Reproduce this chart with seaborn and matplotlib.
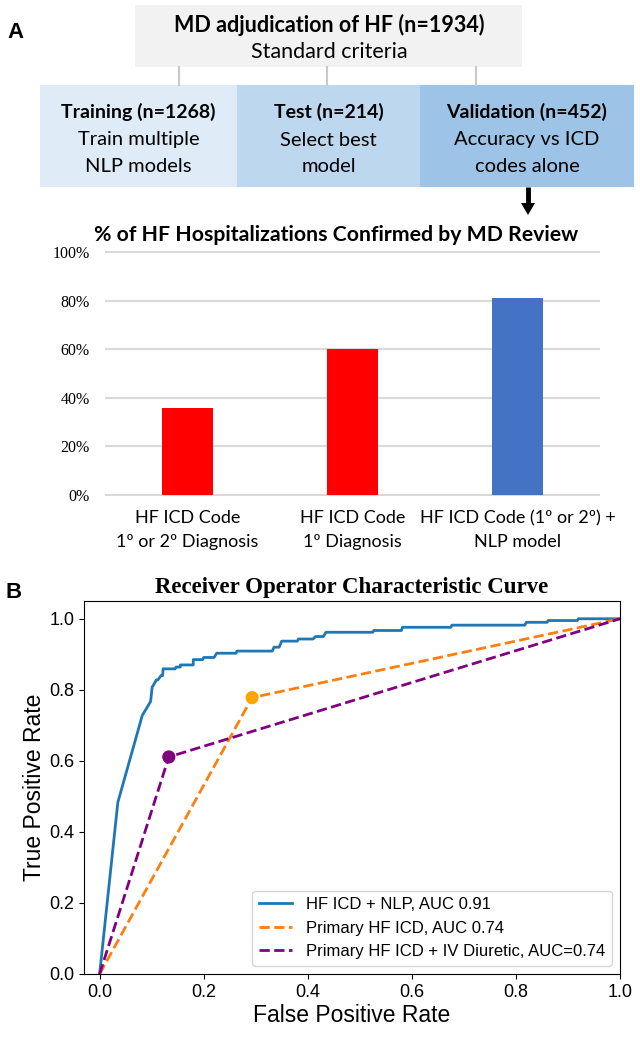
import numpy as np
import pandas as pd
import seaborn as sns
import matplotlib.pyplot as plt
from matplotlib.patches import Rectangle, Polygon

# --- panel A: flowchart text
top_box = ['MD adjudication of HF (n=1934)', 'Standard criteria']
split_titles = ['Training (n=1268)', 'Test (n=214)', 'Validation (n=452)']
split_lines = [['Train multiple', 'NLP models'],
               ['Select best', 'model'],
               ['Accuracy vs ICD', 'codes alone']]

# --- panel A: bar chart
bar_title = '% of HF Hospitalizations Confirmed by MD Review'
bar_labels = ['HF ICD Code\n1º or 2º Diagnosis',
              'HF ICD Code\n1º Diagnosis',
              'HF ICD Code (1º or 2º) +\nNLP model']
bar_values = [0.36, 0.60, 0.81]
bar_colors = ['#ff0000', '#ff0000', '#4472c4']
pct_ticks = [0.0, 0.2, 0.4, 0.6, 0.8, 1.0]

# --- panel B: ROC curves
nlp_fpr = [0, 0.035, 0.082, 0.098, 0.101, 0.103, 0.109, 0.112, 0.118, 0.121,
           0.122, 0.145, 0.147, 0.155, 0.155, 0.18, 0.18, 0.198, 0.2, 0.22,
           0.225, 0.262, 0.264, 0.332, 0.335, 0.345, 0.35, 0.38, 0.382, 0.41,
           0.415, 0.43, 0.435, 0.525, 0.527, 0.58, 0.582, 0.675, 0.677, 0.817,
           0.82, 0.86, 0.862, 0.918, 0.92, 1.0]
nlp_tpr = [0, 0.483, 0.728, 0.767, 0.808, 0.812, 0.828, 0.828, 0.84, 0.84,
           0.859, 0.859, 0.864, 0.864, 0.87, 0.87, 0.885, 0.885, 0.891, 0.891,
           0.903, 0.903, 0.909, 0.909, 0.92, 0.92, 0.937, 0.937, 0.943, 0.943,
           0.95, 0.95, 0.962, 0.962, 0.967, 0.967, 0.976, 0.976, 0.982, 0.982,
           0.99, 0.99, 0.995, 0.995, 1.0, 1.0]
icd_fpr = [0, 0.293, 1.0]
icd_tpr = [0, 0.778, 1.0]
diu_fpr = [0, 0.133, 1.0]
diu_tpr = [0, 0.611, 1.0]
roc_labels = ['HF ICD + NLP, AUC 0.91', 'Primary HF ICD, AUC 0.74',
              'Primary HF ICD + IV Diuretic, AUC=0.74']
roc_ticks = [0.0, 0.2, 0.4, 0.6, 0.8, 1.0]

CAL = 'Lato'
ARIAL = 'Liberation Sans'
TIMES = 'Liberation Serif'

W, H = 640, 1050
fig = plt.figure(figsize=(6.4, 10.5), dpi=100)

# overlay in pixel coords for the flowchart
ax0 = fig.add_axes([0, 0, 1, 1])
ax0.set_xlim(0, W)
ax0.set_ylim(H, 0)
ax0.axis('off')

ax0.add_patch(Rectangle((135, 5), 387, 62, color='#f2f2f2', lw=0))
ax0.text(329, 25, top_box[0], ha='center', va='center', fontsize=15.5,
         fontweight='bold', family=CAL)
ax0.text(329, 52, top_box[1], ha='center', va='center', fontsize=15.5, family=CAL)
for cx in [179, 327, 476]:
    ax0.plot([cx, cx], [67, 85], color='#c9c9c9', lw=1.5)

box_x = [40, 237, 420, 634]
box_fill = ['#dfebf7', '#bdd7ee', '#9dc3e6']
for i in range(3):
    x0, x1 = box_x[i], box_x[i + 1]
    ax0.add_patch(Rectangle((x0, 85), x1 - x0, 102, color=box_fill[i], lw=0))
    cx = (x0 + x1) / 2
    ax0.text(cx, 112, split_titles[i], ha='center', va='center', fontsize=14,
             fontweight='bold', family=CAL)
    ax0.text(cx, 140, split_lines[i][0], ha='center', va='center', fontsize=14.5, family=CAL)
    ax0.text(cx, 167, split_lines[i][1], ha='center', va='center', fontsize=14.5, family=CAL)

# arrow down to bar chart
ax0.plot([528, 528], [187, 204], color='black', lw=3.5, solid_capstyle='butt')
ax0.add_patch(Polygon([[521, 203], [535, 203], [528, 215]], closed=True, color='black', lw=0))

ax0.text(16, 32, 'A', ha='center', va='center', fontsize=16, fontweight='bold', family=ARIAL)
ax0.text(14, 593, 'B', ha='center', va='center', fontsize=16, fontweight='bold', family=ARIAL)

# bar chart
ax1 = fig.add_axes([105 / W, 1 - 496 / H, 495 / W, 245 / H])
df_bar = pd.DataFrame({'label': bar_labels, 'value': bar_values})
sns.barplot(data=df_bar, x='label', y='value', hue='label', palette=bar_colors,
            width=0.31, saturation=1, legend=False, ax=ax1)
ax1.set_xlim(-0.5, 2.5)
ax1.set_ylim(-0.004, 1.004)
ax1.set_yticks(pct_ticks)
ax1.set_yticklabels([f'{int(round(v * 100))}%' for v in pct_ticks],
                    family=TIMES, fontsize=11.5)
ax1.set_xticks(range(3))
ax1.set_xticklabels(bar_labels, family=CAL, fontsize=13, linespacing=1.6)
ax1.yaxis.grid(True, color='#d9d9d9', lw=1.5)
ax1.set_axisbelow(True)
for s in ax1.spines.values():
    s.set_visible(False)
ax1.tick_params(axis='both', length=0)
ax1.tick_params(axis='y', pad=11)
ax1.tick_params(axis='x', pad=10)
ax1.set_xlabel('')
ax1.set_ylabel('')
fig.text(336 / W, 1 - 235 / H, bar_title, ha='center', va='center',
         fontsize=15.3, fontweight='bold', family=CAL)

# ROC chart
ax2 = fig.add_axes([84 / W, 1 - 974 / H, 536 / W, 373 / H])
sns.lineplot(x=nlp_fpr, y=nlp_tpr, sort=False, estimator=None, color='#1f77b4',
             lw=2, label=roc_labels[0], ax=ax2)
sns.lineplot(x=icd_fpr, y=icd_tpr, sort=False, estimator=None, color='#ff7f0e',
             lw=2, ls='--', label=roc_labels[1], ax=ax2)
sns.lineplot(x=diu_fpr, y=diu_tpr, sort=False, estimator=None, color='purple',
             lw=2, ls='--', label=roc_labels[2], ax=ax2)
sns.scatterplot(x=icd_fpr[1:2], y=icd_tpr[1:2], color='orange', s=90,
                edgecolor='none', zorder=5, ax=ax2)
sns.scatterplot(x=diu_fpr[1:2], y=diu_tpr[1:2], color='purple', s=90,
                edgecolor='none', zorder=5, ax=ax2)
ax2.set_xlim(-0.03, 1.0)
ax2.set_ylim(0, 1.05)
ax2.set_xticks(roc_ticks)
ax2.set_yticks(roc_ticks)
ax2.set_xticklabels([f'{v:.1f}' for v in roc_ticks], family=ARIAL, fontsize=13)
ax2.set_yticklabels([f'{v:.1f}' for v in roc_ticks], family=ARIAL, fontsize=13)
ax2.set_xlabel('False Positive Rate', family=ARIAL, fontsize=16.5, labelpad=2)
ax2.set_ylabel('True Positive Rate', family=ARIAL, fontsize=16.5, labelpad=2)
ax2.set_title('Receiver Operator Characteristic Curve', family=TIMES,
              fontweight='bold', fontsize=16.5, pad=6)
ax2.legend(loc='lower right', prop={'family': ARIAL, 'size': 12})

fig.savefig('out.png', dpi=100)
